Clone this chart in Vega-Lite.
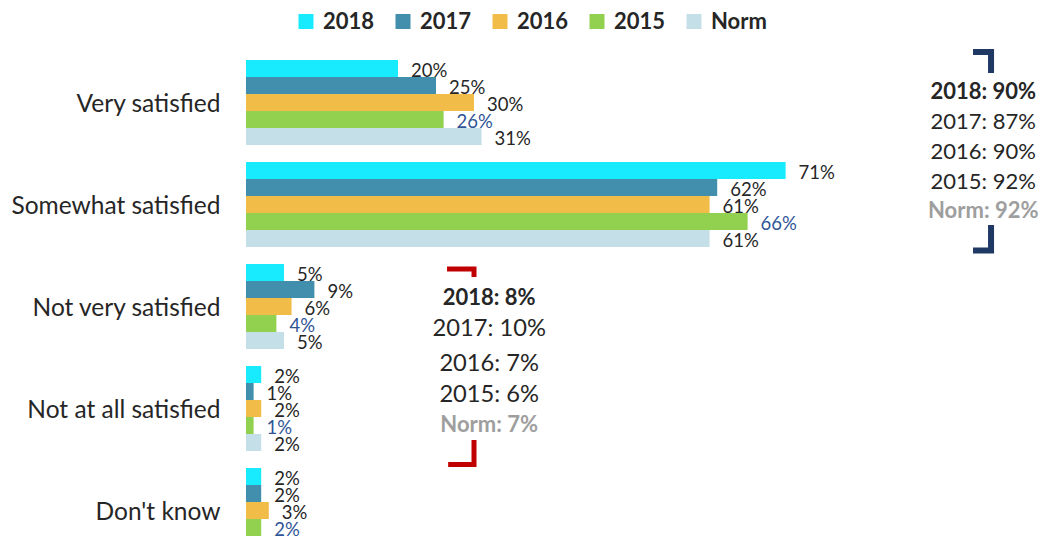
{
  "$schema": "https://vega.github.io/schema/vega-lite/v6.json",
  "autosize": {"type": "none"},
  "width": 793,
  "height": 484.5,
  "padding": {"left": 246, "top": 51.5, "right": 0, "bottom": 0},
  "background": "white",
  "config": {"view": {"stroke": null}, "font": "Lato"},
  "datasets": {
    "bars": [
      {"category": "Very satisfied", "series": "2018", "value": 0.20},
      {"category": "Very satisfied", "series": "2017", "value": 0.25},
      {"category": "Very satisfied", "series": "2016", "value": 0.30},
      {"category": "Very satisfied", "series": "2015", "value": 0.26},
      {"category": "Very satisfied", "series": "Norm", "value": 0.31},
      {"category": "Somewhat satisfied", "series": "2018", "value": 0.71},
      {"category": "Somewhat satisfied", "series": "2017", "value": 0.62},
      {"category": "Somewhat satisfied", "series": "2016", "value": 0.61},
      {"category": "Somewhat satisfied", "series": "2015", "value": 0.66},
      {"category": "Somewhat satisfied", "series": "Norm", "value": 0.61},
      {"category": "Not very satisfied", "series": "2018", "value": 0.05},
      {"category": "Not very satisfied", "series": "2017", "value": 0.09},
      {"category": "Not very satisfied", "series": "2016", "value": 0.06},
      {"category": "Not very satisfied", "series": "2015", "value": 0.04},
      {"category": "Not very satisfied", "series": "Norm", "value": 0.05},
      {"category": "Not at all satisfied", "series": "2018", "value": 0.02},
      {"category": "Not at all satisfied", "series": "2017", "value": 0.01},
      {"category": "Not at all satisfied", "series": "2016", "value": 0.02},
      {"category": "Not at all satisfied", "series": "2015", "value": 0.01},
      {"category": "Not at all satisfied", "series": "Norm", "value": 0.02},
      {"category": "Don't know", "series": "2018", "value": 0.02},
      {"category": "Don't know", "series": "2017", "value": 0.02},
      {"category": "Don't know", "series": "2016", "value": 0.03},
      {"category": "Don't know", "series": "2015", "value": 0.02},
      {"category": "Don't know", "series": "Norm", "value": 0.01}
    ],
    "notes": [
      {"side": "right", "style": "bold", "text": "2018:  90%", "x": 0.970, "pos": 0.397},
      {"side": "right", "style": "normal", "text": "2017: 87%", "x": 0.970, "pos": 0.691},
      {"side": "right", "style": "normal", "text": "2016: 90%", "x": 0.970, "pos": 0.985},
      {"side": "right", "style": "normal", "text": "2015: 92%", "x": 0.970, "pos": 1.279},
      {"side": "right", "style": "grey", "text": "Norm: 92%", "x": 0.970, "pos": 1.564},
      {"side": "left", "style": "bold", "text": "2018: 8%", "x": 0.320, "pos": 2.417},
      {"side": "left", "style": "normal", "text": "2017: 10%", "x": 0.320, "pos": 2.721},
      {"side": "left", "style": "normal", "text": "2016: 7%", "x": 0.320, "pos": 3.064},
      {"side": "left", "style": "normal", "text": "2015: 6%", "x": 0.320, "pos": 3.368},
      {"side": "left", "style": "grey", "text": "Norm: 7%", "x": 0.320, "pos": 3.662}
    ],
    "brackets": [
      {"side": "right", "piece": "rt", "ord": 1, "x": 0.9566, "pos": 0.005},
      {"side": "right", "piece": "rt", "ord": 2, "x": 0.9803, "pos": 0.005},
      {"side": "right", "piece": "rt", "ord": 3, "x": 0.9803, "pos": 0.211},
      {"side": "right", "piece": "rb", "ord": 1, "x": 0.9803, "pos": 1.701},
      {"side": "right", "piece": "rb", "ord": 2, "x": 0.9803, "pos": 1.951},
      {"side": "right", "piece": "rb", "ord": 3, "x": 0.9566, "pos": 1.951},
      {"side": "left", "piece": "lt", "ord": 1, "x": 0.2645, "pos": 2.132},
      {"side": "left", "piece": "lt", "ord": 2, "x": 0.3000, "pos": 2.132},
      {"side": "left", "piece": "lt", "ord": 3, "x": 0.3000, "pos": 2.211},
      {"side": "left", "piece": "lb", "ord": 1, "x": 0.3000, "pos": 3.809},
      {"side": "left", "piece": "lb", "ord": 2, "x": 0.3000, "pos": 4.049},
      {"side": "left", "piece": "lb", "ord": 3, "x": 0.2660, "pos": 4.049}
    ]
  },
  "layer": [
    {
      "data": {"name": "bars"},
      "encoding": {
        "y": {
          "field": "category", "type": "nominal",
          "sort": ["Very satisfied", "Somewhat satisfied", "Not very satisfied", "Not at all satisfied", "Don't know"],
          "scale": {"range": [0, 510], "paddingInner": 0, "paddingOuter": 0},
          "axis": {"title": null, "domain": false, "ticks": false, "labelFontSize": 24.5, "labelColor": "#262626", "labelPadding": 26, "labelLimit": 400, "labelFont": "Lato", "labelOffset": 2}
        },
        "yOffset": {
          "field": "series", "type": "nominal",
          "sort": ["2018", "2017", "2016", "2015", "Norm"],
          "scale": {"paddingInner": 0, "paddingOuter": 0.5}
        },
        "x": {"field": "value", "type": "quantitative", "scale": {"domain": [0, 1.0434], "nice": false}, "axis": null}
      },
      "layer": [
        {
          "mark": {"type": "bar"},
          "encoding": {
            "color": {
              "field": "series", "type": "nominal",
              "scale": {"domain": ["2018", "2017", "2016", "2015", "Norm"], "range": ["#19EBFF", "#428FAD", "#F2BC48", "#92D050", "#C5DFE8"]},
              "legend": {
                "orient": "none", "legendX": 49, "legendY": -41, "direction": "horizontal", "columns": 5,
                "title": null, "symbolType": "square", "symbolSize": 225, "symbolStrokeWidth": 0, "symbolOpacity": 1,
                "labelFontSize": 22, "labelFontWeight": "bold", "labelColor": "#262626", "labelFont": "Lato",
                "columnPadding": 17, "labelOffset": 6
              }
            }
          }
        },
        {
          "mark": {"type": "text", "align": "left", "baseline": "middle", "dx": 13, "dy": 2, "fontSize": 18.5, "font": "Lato"},
          "encoding": {
            "text": {"field": "value", "type": "quantitative", "format": ".0%"},
            "color": {"condition": {"test": "datum.series === '2015'", "value": "#2F5597"}, "value": "#262626"}
          }
        }
      ]
    },
    {
      "encoding": {
        "x": {"field": "x", "type": "quantitative", "scale": {"domain": [0, 1.0434], "nice": false}, "axis": null},
        "y": {"field": "pos", "type": "quantitative", "scale": {"domain": [0, 5], "range": [0, 510], "nice": false, "zero": false}, "axis": null}
      },
      "layer": [
        {
          "data": {"name": "brackets"},
          "transform": [{"filter": "datum.side === 'right'"}],
          "mark": {"type": "line", "color": "#1F3864", "strokeWidth": 6, "strokeJoin": "miter", "strokeCap": "butt"},
          "encoding": {"detail": {"field": "piece"}, "order": {"field": "ord", "type": "quantitative"}}
        },
        {
          "data": {"name": "brackets"},
          "transform": [{"filter": "datum.side === 'left'"}],
          "mark": {"type": "line", "color": "#C00000", "strokeWidth": 5, "strokeJoin": "miter", "strokeCap": "butt"},
          "encoding": {"detail": {"field": "piece"}, "order": {"field": "ord", "type": "quantitative"}}
        },
        {
          "data": {"name": "notes"},
          "transform": [{"filter": "datum.style === 'bold'"}],
          "mark": {"type": "text", "align": "center", "baseline": "middle", "fontSize": 22, "fontWeight": "bold", "color": "#262626", "font": "Lato"},
          "encoding": {"text": {"field": "text"}}
        },
        {
          "data": {"name": "notes"},
          "transform": [{"filter": "datum.style === 'normal' && datum.side === 'right'"}],
          "mark": {"type": "text", "align": "center", "baseline": "middle", "fontSize": 22, "color": "#262626", "font": "Lato"},
          "encoding": {"text": {"field": "text"}}
        },
        {
          "data": {"name": "notes"},
          "transform": [{"filter": "datum.style === 'normal' && datum.side === 'left'"}],
          "mark": {"type": "text", "align": "center", "baseline": "middle", "fontSize": 23.7, "color": "#262626", "font": "Lato"},
          "encoding": {"text": {"field": "text"}}
        },
        {
          "data": {"name": "notes"},
          "transform": [{"filter": "datum.style === 'grey'"}],
          "mark": {"type": "text", "align": "center", "baseline": "middle", "fontSize": 22, "fontWeight": "bold", "color": "#9E9E9E", "font": "Lato"},
          "encoding": {"text": {"field": "text"}}
        }
      ]
    }
  ],
  "resolve": {"scale": {"y": "independent"}, "axis": {"y": "independent"}}
}
